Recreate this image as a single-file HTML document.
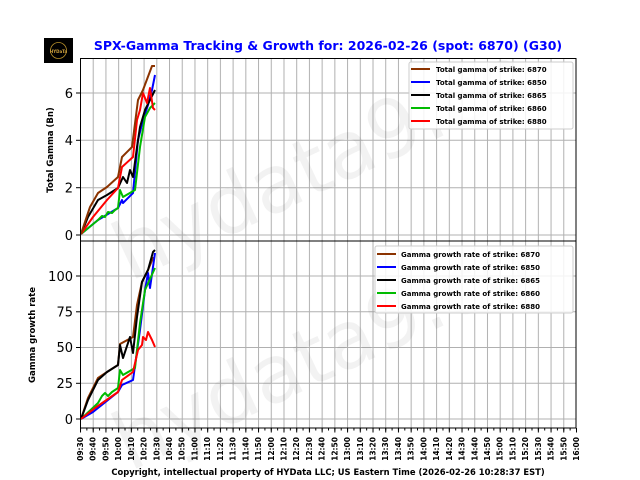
<!DOCTYPE html>
<html><head><meta charset="utf-8"><style>
body{margin:0;background:#fff;}
svg{display:block;font-family:"DejaVu Sans","Liberation Sans",sans-serif;}
.xl{font-size:7.5px;font-weight:bold;text-anchor:end;}
.yl{font-size:13px;text-anchor:end;}
.lg{font-size:7px;font-weight:bold;}
</style></head><body>
<svg width="640" height="480" viewBox="0 0 640 480">
<defs>
<pattern id="gv" x="80" y="0" width="12.7179" height="480" patternUnits="userSpaceOnUse"><line x1="0.5" y1="0" x2="0.5" y2="480" stroke="#b0b0b0" stroke-width="1"/></pattern>
<pattern id="mt" x="80" y="0" width="6.359" height="480" patternUnits="userSpaceOnUse"><line x1="0.5" y1="0" x2="0.5" y2="480" stroke="#000" stroke-width="1"/></pattern>
<pattern id="Mt" x="80" y="0" width="12.7179" height="480" patternUnits="userSpaceOnUse"><line x1="0.5" y1="0" x2="0.5" y2="480" stroke="#000" stroke-width="1"/></pattern>
</defs>
<rect x="44" y="38" width="29" height="25" fill="#000"/>
<circle cx="58.5" cy="50.5" r="8" fill="none" stroke="#b8902a" stroke-width="0.8"/>
<text x="58.5" y="53" font-size="4" fill="#d4a640" text-anchor="middle" font-weight="bold">HYDaTa</text>
<text x="328" y="50" font-size="12.5" font-weight="bold" fill="#0000ff" text-anchor="middle">SPX-Gamma Tracking &amp; Growth for: 2026-02-26 (spot: 6870) (G30)</text>
<rect x="80" y="58" width="496" height="183" fill="url(#gv)"/>
<rect x="80" y="241" width="496" height="187" fill="url(#gv)"/>
<g stroke="#b0b0b0" stroke-width="1">
<line x1="80" y1="235" x2="576" y2="235"/><line x1="80" y1="187.7" x2="576" y2="187.7"/><line x1="80" y1="140.3" x2="576" y2="140.3"/><line x1="80" y1="93" x2="576" y2="93"/>
<line x1="80" y1="419" x2="576" y2="419"/><line x1="80" y1="383.3" x2="576" y2="383.3"/><line x1="80" y1="347.5" x2="576" y2="347.5"/><line x1="80" y1="311.8" x2="576" y2="311.8"/><line x1="80" y1="276" x2="576" y2="276"/>
</g>
<text x="320" y="190" font-size="80" fill="#000" fill-opacity="0.05" transform="rotate(-25 320 160)" text-anchor="middle">hydata9.co</text>
<text x="320" y="380" font-size="80" fill="#000" fill-opacity="0.05" transform="rotate(-25 320 350)" text-anchor="middle">hydata9.co</text>
<g fill="none" stroke-width="2" stroke-linejoin="round">
<polyline stroke="#0000ff" points="81,234 98,220 118,208 122,200 123,203 133,193 138,140 143,120 148,105 152,90 155,75"/>
<polyline stroke="#00bb00" points="81,234 98,220 102,216 105,217 108,212 112,213 115,210 118,208 120,190 123,197 135,190 140,147 145,117 150,108 155,103"/>
<polyline stroke="#000" points="81,234 88,217 98,200 107,195 118,188 123,177 127,183 130,170 133,177 137,147 140,127 145,110 150,100 155,90"/>
<polyline stroke="#ff0000" points="81,234 93,217 107,200 118,188 122,167 133,157 137,120 140,110 143,93 147,103 150,88 153,108 155,110"/>
<polyline stroke="#8b3300" points="81,234 90,207 98,193 107,187 118,177 122,157 132,147 138,100 143,90 152,66 155,66"/>
</g>
<g fill="none" stroke-width="2" stroke-linejoin="round">
<polyline stroke="#8b3300" points="81,419 88,398 98,378 107,372 118,365 120,344 133,337 137,305 142,282 148,270 153,258 155,258"/>
<polyline stroke="#0000ff" points="81,419 93,412 118,392 122,385 133,380 140,330 145,290 148,273 150,288 155,253"/>
<polyline stroke="#00bb00" points="81,419 98,403 102,396 105,393 108,396 112,392 118,388 120,370 123,375 135,368 140,323 145,290 155,268"/>
<polyline stroke="#000" points="81,419 88,400 98,380 107,372 118,365 120,345 123,358 130,337 133,353 137,317 142,282 148,270 153,252 155,250"/>
<polyline stroke="#ff0000" points="81,419 95,408 118,392 122,380 133,372 138,350 142,345 143,337 146,340 148,332 152,340 155,347"/>
</g>
<rect x="80.5" y="58.5" width="495.5" height="182.5" fill="none" stroke="#000" stroke-width="1"/>
<rect x="80.5" y="241" width="495.5" height="187" fill="none" stroke="#000" stroke-width="1"/>
<g stroke="#000"><line x1="76" y1="235" x2="80" y2="235"/><line x1="76" y1="187.7" x2="80" y2="187.7"/><line x1="76" y1="140.3" x2="80" y2="140.3"/><line x1="76" y1="93" x2="80" y2="93"/>
<line x1="76" y1="419" x2="80" y2="419"/><line x1="76" y1="383.3" x2="80" y2="383.3"/><line x1="76" y1="347.5" x2="80" y2="347.5"/><line x1="76" y1="311.8" x2="80" y2="311.8"/><line x1="76" y1="276" x2="80" y2="276"/></g>
<text class="yl" x="73" y="240">0</text><text class="yl" x="73" y="192.5">2</text><text class="yl" x="73" y="145">4</text><text class="yl" x="73" y="98">6</text>
<text class="yl" x="73" y="424">0</text><text class="yl" x="73" y="388">25</text><text class="yl" x="73" y="352">50</text><text class="yl" x="73" y="316.5">75</text><text class="yl" x="73" y="281">100</text>
<text x="53" y="150" font-size="8.5" font-weight="bold" text-anchor="middle" transform="rotate(-90 53 150)">Total Gamma (Bn)</text>
<text x="35" y="335" font-size="8.5" font-weight="bold" text-anchor="middle" transform="rotate(-90 35 335)">Gamma growth rate</text>
<rect x="80" y="428" width="497" height="2.5" fill="url(#mt)"/>
<rect x="80" y="428" width="497" height="4.5" fill="url(#Mt)"/>
<g class="xl">
<text transform="translate(83,437) rotate(-90)">09:30</text><text transform="translate(95.7,437) rotate(-90)">09:40</text><text transform="translate(108.4,437) rotate(-90)">09:50</text><text transform="translate(121.2,437) rotate(-90)">10:00</text><text transform="translate(133.9,437) rotate(-90)">10:10</text><text transform="translate(146.6,437) rotate(-90)">10:20</text><text transform="translate(159.3,437) rotate(-90)">10:30</text><text transform="translate(172,437) rotate(-90)">10:40</text><text transform="translate(184.7,437) rotate(-90)">10:50</text><text transform="translate(197.5,437) rotate(-90)">11:00</text><text transform="translate(210.2,437) rotate(-90)">11:10</text><text transform="translate(222.9,437) rotate(-90)">11:20</text><text transform="translate(235.6,437) rotate(-90)">11:30</text><text transform="translate(248.3,437) rotate(-90)">11:40</text><text transform="translate(261,437) rotate(-90)">11:50</text><text transform="translate(273.8,437) rotate(-90)">12:00</text><text transform="translate(286.5,437) rotate(-90)">12:10</text><text transform="translate(299.2,437) rotate(-90)">12:20</text><text transform="translate(311.9,437) rotate(-90)">12:30</text><text transform="translate(324.6,437) rotate(-90)">12:40</text><text transform="translate(337.4,437) rotate(-90)">12:50</text><text transform="translate(350.1,437) rotate(-90)">13:00</text><text transform="translate(362.8,437) rotate(-90)">13:10</text><text transform="translate(375.5,437) rotate(-90)">13:20</text><text transform="translate(388.2,437) rotate(-90)">13:30</text><text transform="translate(401,437) rotate(-90)">13:40</text><text transform="translate(413.7,437) rotate(-90)">13:50</text><text transform="translate(426.4,437) rotate(-90)">14:00</text><text transform="translate(439.1,437) rotate(-90)">14:10</text><text transform="translate(451.8,437) rotate(-90)">14:20</text><text transform="translate(464.5,437) rotate(-90)">14:30</text><text transform="translate(477.3,437) rotate(-90)">14:40</text><text transform="translate(490,437) rotate(-90)">14:50</text><text transform="translate(502.7,437) rotate(-90)">15:00</text><text transform="translate(515.4,437) rotate(-90)">15:10</text><text transform="translate(528.1,437) rotate(-90)">15:20</text><text transform="translate(540.9,437) rotate(-90)">15:30</text><text transform="translate(553.6,437) rotate(-90)">15:40</text><text transform="translate(566.3,437) rotate(-90)">15:50</text><text transform="translate(579,437) rotate(-90)">16:00</text>
</g>
<text x="328" y="475" font-size="8.4" font-weight="bold" text-anchor="middle">Copyright, intellectual property of HYData LLC; US Eastern Time (2026-02-26 10:28:37 EST)</text>
<rect x="409" y="62" width="164" height="67" rx="2" fill="#fff" fill-opacity="0.85" stroke="#ccc"/>
<g stroke-width="2"><line x1="411" y1="69" x2="430" y2="69" stroke="#8b3300"/><line x1="411" y1="82" x2="430" y2="82" stroke="#0000ff"/><line x1="411" y1="95" x2="430" y2="95" stroke="#000"/><line x1="411" y1="108" x2="430" y2="108" stroke="#00bb00"/><line x1="411" y1="121" x2="430" y2="121" stroke="#ff0000"/></g>
<g class="lg"><text x="436" y="72">Total gamma of strike: 6870</text><text x="436" y="85">Total gamma of strike: 6850</text><text x="436" y="98">Total gamma of strike: 6865</text><text x="436" y="111">Total gamma of strike: 6860</text><text x="436" y="124">Total gamma of strike: 6880</text></g>
<rect x="375" y="246" width="198" height="67" rx="2" fill="#fff" fill-opacity="0.85" stroke="#ccc"/>
<g stroke-width="2"><line x1="377" y1="254" x2="396" y2="254" stroke="#8b3300"/><line x1="377" y1="267" x2="396" y2="267" stroke="#0000ff"/><line x1="377" y1="280" x2="396" y2="280" stroke="#000"/><line x1="377" y1="293" x2="396" y2="293" stroke="#00bb00"/><line x1="377" y1="306" x2="396" y2="306" stroke="#ff0000"/></g>
<g class="lg"><text x="401" y="257">Gamma growth rate of strike: 6870</text><text x="401" y="270">Gamma growth rate of strike: 6850</text><text x="401" y="283">Gamma growth rate of strike: 6865</text><text x="401" y="296">Gamma growth rate of strike: 6860</text><text x="401" y="309">Gamma growth rate of strike: 6880</text></g>
</svg>
</body></html>
